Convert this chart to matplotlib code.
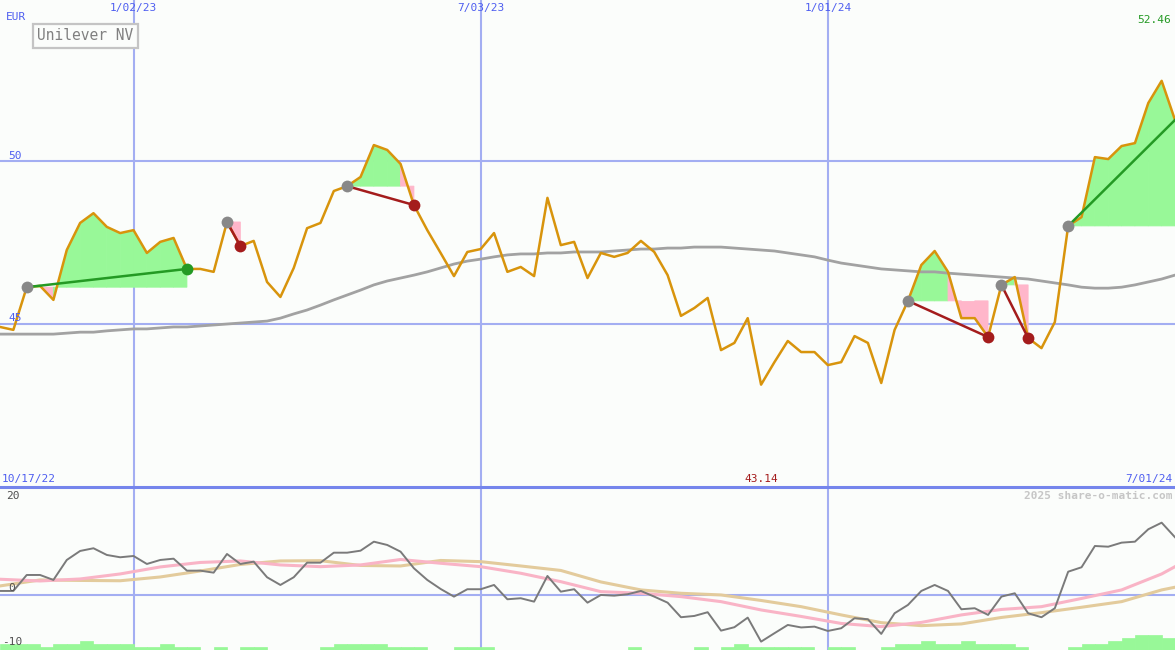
"""
Unilever NV weekly price chart with trade signals and oscillator panel
(share-o-matic style).
"""
import pandas as pd
import matplotlib
matplotlib.use("Agg")
import matplotlib.pyplot as plt
import matplotlib.dates as mdates

BG = "#FBFDFB"
GRID = "#A3AEF2"
SEP = "#7585EC"
BLUE_TXT = "#4E5EF0"
PRICE_C = "#D8940C"
MA_C = "#A2A2A2"
GREEN_FILL = "#98F898"
PINK_FILL = "#FFB6CA"
GREEN_DOT = "#249A24"
RED_DOT = "#A41C1C"
GREY_DOT = "#888888"
OSC_C = "#7A7A7A"
OSC_PINK = "#F9B4C6"
OSC_TAN = "#E3CB9C"
VOL_C = "#98F898"

# weekly closes, 10/24/22 .. 7/01/24
weeks = pd.date_range("2022-10-24", periods=89, freq="7D")

price = [44.91, 44.82, 46.13, 46.17, 45.74, 47.27, 48.10, 48.40, 47.98, 47.79,
         47.88, 47.18, 47.52, 47.64, 46.69, 46.69, 46.60, 48.13, 47.39, 47.55,
         46.29, 45.83, 46.72, 47.94, 48.10, 49.08, 49.23, 49.51, 50.49, 50.34,
         49.91, 48.65, 47.88, 47.18, 46.47, 47.21, 47.30, 47.79, 46.60, 46.75,
         46.47, 48.87, 47.42, 47.52, 46.41, 47.18, 47.06, 47.18, 47.55, 47.21,
         46.50, 45.25, 45.49, 45.80, 44.20, 44.42, 45.18, 43.14, 43.83, 44.48,
         44.14, 44.14, 43.74, 43.83, 44.63, 44.42, 43.19, 44.82, 45.71, 46.81,
         47.24, 46.60, 45.18, 45.18, 44.60, 46.20, 46.44, 44.57, 44.26, 45.06,
         48.01, 48.28, 50.12, 50.06, 50.46, 50.55, 51.78, 52.46, 51.26]

ma_long = [44.69, 44.69, 44.69, 44.69, 44.69, 44.72, 44.75, 44.75, 44.79, 44.82,
           44.85, 44.85, 44.88, 44.91, 44.91, 44.94, 44.97, 45.00, 45.03, 45.06,
           45.09, 45.18, 45.31, 45.43, 45.58, 45.74, 45.89, 46.04, 46.20, 46.32,
           46.41, 46.50, 46.60, 46.72, 46.84, 46.93, 46.99, 47.06, 47.12, 47.15,
           47.15, 47.18, 47.18, 47.21, 47.21, 47.21, 47.24, 47.27, 47.30, 47.30,
           47.33, 47.33, 47.36, 47.36, 47.36, 47.33, 47.30, 47.27, 47.24, 47.18,
           47.12, 47.06, 46.96, 46.87, 46.81, 46.75, 46.69, 46.66, 46.63, 46.60,
           46.60, 46.56, 46.53, 46.50, 46.47, 46.44, 46.41, 46.38, 46.32, 46.26,
           46.20, 46.13, 46.10, 46.10, 46.13, 46.20, 46.29, 46.38, 46.50]

# oscillator panel
osc = [0.74, 0.74, 3.70, 3.70, 2.78, 6.48, 8.15, 8.65, 7.41, 6.98,
       7.22, 5.74, 6.48, 6.72, 4.50, 4.50, 4.13, 7.59, 5.74, 6.17,
       3.28, 1.85, 3.28, 5.98, 5.98, 7.83, 7.83, 8.20, 9.87, 9.26,
       8.02, 4.94, 2.78, 1.11, -0.31, 1.06, 1.06, 1.85, -0.80, -0.61,
       -1.24, 3.52, 0.61, 1.06, -1.43, 0.00, -0.13, 0.13, 0.74, -0.31,
       -1.43, -4.13, -3.89, -3.20, -6.61, -5.98, -4.20, -8.65, -7.09, -5.56,
       -6.02, -5.87, -6.67, -6.17, -4.31, -4.50, -7.22, -3.39, -1.85, 0.74,
       1.85, 0.74, -2.65, -2.46, -3.70, -0.31, 0.31, -3.39, -4.13, -2.46,
       4.31, 5.13, 9.07, 8.94, 9.69, 9.87, 12.17, 13.39, 10.69]

sig_idx = [0, 3, 6, 9, 12, 15, 18, 21, 24, 27, 30, 33, 36, 39, 42,
           45, 48, 51, 54, 57, 60, 63, 66, 69, 72, 75, 78, 81, 84, 87, 88]
osc_pink = [2.91, 2.59, 2.96, 3.89, 5.19, 6.02, 6.30, 5.56, 5.24, 5.56, 6.57,
            5.87, 5.24, 4.02, 2.46, 0.61, 0.31, -0.31, -1.24, -2.78, -3.98,
            -5.28, -5.87, -5.09, -3.70, -2.69, -2.17, -0.65, 0.93, 3.89, 5.24]
osc_tan = [1.67, 2.78, 2.69, 2.63, 3.33, 4.44, 5.65, 6.30, 6.35, 5.46, 5.37,
           6.39, 6.17, 5.37, 4.54, 2.41, 0.93, 0.31, 0.00, -1.02, -2.17,
           -3.70, -5.13, -5.69, -5.37, -4.17, -3.28, -2.28, -1.24, 0.93, 1.43]

# green bars along the bottom, one per week
vol_bars = [1.1, 1.1, 1.1, 0.6, 1.1, 1.1, 1.7, 1.1, 1.1, 1.1,
            0.6, 0.6, 1.1, 0.6, 0.6, 0.0, 0.6, 0.0, 0.6, 0.6,
            0.0, 0.0, 0.0, 0.0, 0.6, 1.1, 1.1, 1.1, 1.1, 0.6,
            0.6, 0.6, 0.0, 0.0, 0.6, 0.6, 0.6, 0.0, 0.0, 0.0,
            0.0, 0.0, 0.0, 0.0, 0.0, 0.0, 0.0, 0.6, 0.0, 0.0,
            0.0, 0.0, 0.6, 0.0, 0.6, 1.1, 0.6, 0.6, 0.6, 0.6,
            0.6, 0.0, 0.6, 0.6, 0.0, 0.0, 0.6, 1.1, 1.1, 1.7,
            1.1, 1.1, 1.7, 1.1, 1.1, 1.1, 0.6, 0.0, 0.0, 0.0,
            0.6, 1.1, 1.1, 1.7, 2.2, 2.8, 2.8, 2.2]

# trades: entry week, exit week, result
entry_idx = [2, 17, 26, 68, 75, 80]
exit_idx = [14, 18, 31, 74, 77, 88]
trade_win = [True, False, False, False, False, True]
trade_open = [False, False, False, False, False, True]

grid_dates = ["2023-01-02", "2023-07-03", "2024-01-01"]
grid_labels = ["1/02/23", "7/03/23", "1/01/24"]

W, H = 1175, 650
fig = plt.figure(figsize=(W / 100, H / 100), dpi=100, facecolor=BG)
ax = fig.add_axes([0, 163 / H, 1, 487 / H])
ax2 = fig.add_axes([0, 0, 1, 163 / H])
x = mdates.date2num(weeks)
gx = mdates.date2num(pd.to_datetime(grid_dates))

for a in (ax, ax2):
    a.set_facecolor(BG)
    a.set_xlim(x[0], x[-1])
    for s in a.spines.values():
        s.set_visible(False)
    a.set_xticks([])
    a.set_yticks([])
    for g in gx:
        a.axvline(g, color=GRID, lw=1.5, zorder=0)

# --- price panel ---
ax.set_ylim(40.0, 54.94)
for lvl in (50, 45):
    ax.axhline(lvl, color=GRID, lw=1.5, zorder=0)

for e, xt, win in zip(entry_idx, exit_idx, trade_win):
    E = price[e]
    for i in range(e, xt):
        col = GREEN_FILL if price[i + 1] >= E else PINK_FILL
        ax.fill([x[i], x[i + 1], x[i + 1], x[i]],
                [price[i], price[i + 1], E, E], fc=col, ec=col, lw=0.6,
                zorder=1)

ax.plot(x, ma_long, color=MA_C, lw=2.0, zorder=2)
ax.plot(x, price, color=PRICE_C, lw=1.8, zorder=3)

for e, xt, win, op in zip(entry_idx, exit_idx, trade_win, trade_open):
    col = GREEN_DOT if win else RED_DOT
    ax.plot([x[e], x[xt]], [price[e], price[xt]], color=col, lw=1.8, zorder=4)
    ax.plot(x[e], price[e], "o", ms=8.5, color=GREY_DOT, mec="none", zorder=5)
    if not op:
        ax.plot(x[xt], price[xt], "o", ms=8.5, color=col, mec="none", zorder=5)

# --- oscillator panel ---
ax2.set_ylim(-10.2, 20.0)
ax2.axhline(0, color=GRID, lw=1.5, zorder=0)
ax2.bar(x[:-1], vol_bars, width=x[1] - x[0], bottom=-10.2, align="edge",
        color=VOL_C, ec=VOL_C, lw=0.5, zorder=1)
ax2.plot(x[sig_idx], osc_tan, color=OSC_TAN, lw=2.2, zorder=2)
ax2.plot(x[sig_idx], osc_pink, color=OSC_PINK, lw=2.2, zorder=2)
ax2.plot(x, osc, color=OSC_C, lw=1.4, zorder=3)

# separator between panels
fig.add_artist(plt.Line2D([0, 1], [163 / H, 163 / H], color=SEP, lw=2.2))


def txt(px, py, s, color=BLUE_TXT, ha="left", size=8, **kw):
    fig.text(px / W, 1 - py / H, s, color=color, ha=ha, va="center",
             family="DejaVu Sans Mono", size=size, **kw)


for g, lab in zip(gx, grid_labels):
    px_x = (g - x[0]) / (x[-1] - x[0]) * W
    txt(px_x, 8, lab, ha="center")

txt(6, 17, "EUR")
fig.text(85.5 / W, 1 - 36 / H, "Unilever NV", color="#808080", ha="center",
         va="center", family="DejaVu Sans Mono", size=10.5,
         bbox=dict(boxstyle="square,pad=0.3", fc=BG, ec="#C4C4C4", lw=1.6))
txt(1171, 20, f"{max(price):.2f}", color=GREEN_DOT, ha="right")
txt(8, 156, "50")
txt(8, 318, "45")
txt(2, 479, "10/17/22")
min_i = price.index(min(price))
min_px = (x[min_i] - x[0]) / (x[-1] - x[0]) * W
txt(min_px, 479, f"{min(price):.2f}", color=RED_DOT, ha="center")
txt(1172, 479, "7/01/24", ha="right")
txt(1172, 496, "2025 share-o-matic.com", color="#C6C6C6", ha="right",
    weight="bold")
txt(6, 496, "20", color="#505050")
txt(8, 588, "0", color="#505050")
txt(2, 642, "-10", color="#505050")

fig.savefig("out.png", dpi=100, facecolor=BG)
